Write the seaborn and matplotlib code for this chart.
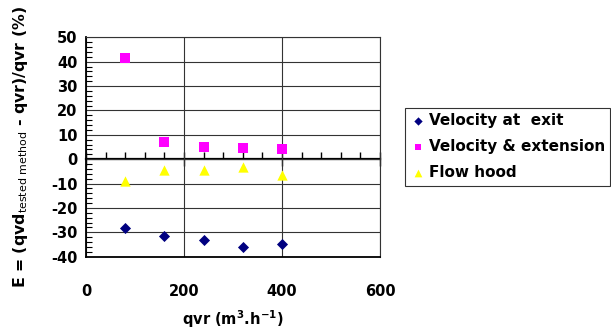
import matplotlib
matplotlib.use("Agg")
import matplotlib.pyplot as plt
import seaborn as sns
import pandas as pd
from matplotlib.ticker import MultipleLocator

sns.set_style("white")
plt.rcParams['font.family'] = ['DejaVu Sans']
plt.rcParams['axes.unicode_minus'] = False
plt.rcParams['mathtext.fontset'] = 'dejavusans'
plt.rcParams['text.color'] = 'black'
plt.rcParams['axes.labelcolor'] = 'black'
plt.rcParams['xtick.color'] = 'black'
plt.rcParams['ytick.color'] = 'black'

qvr = [80, 160, 240, 320, 400]
velocity_exit = [-28.4, -31.5, -33.1, -36.0, -34.8]
velocity_ext = [41.4, 6.9, 4.9, 4.6, 4.1]
flow_hood = [-9.0, -4.4, -4.6, -3.0, -6.3]
series_names = ["Velocity at  exit", "Velocity & extension", "Flow hood"]
colors = ["#000080", "#FF00FF", "#FFFF00"]
markers = ["D", "s", "^"]

df = pd.DataFrame({
    "qvr": qvr * 3,
    "E": velocity_exit + velocity_ext + flow_hood,
    "series": [series_names[0]] * 5 + [series_names[1]] * 5 + [series_names[2]] * 5,
})

fig = plt.figure(figsize=(6.11, 3.34), dpi=100)
ax = fig.add_axes([86 / 611, 1 - 256.7 / 334, (380 - 86) / 611, (256.7 - 37.3) / 334])

sizes = {series_names[0]: 32, series_names[1]: 42, series_names[2]: 55}
for name, c, m in zip(series_names, colors, markers):
    sub = df[df.series == name]
    sns.scatterplot(data=sub, x="qvr", y="E", color=c, marker=m, s=sizes[name],
                    edgecolor=c, linewidth=0, ax=ax, label=name, zorder=5)

ax.set_xlim(0, 600)
ax.set_ylim(-40, 50)
ax.xaxis.set_major_locator(MultipleLocator(200))
ax.yaxis.set_major_locator(MultipleLocator(10))
ax.yaxis.set_minor_locator(MultipleLocator(2))
ax.grid(True, which="major", color="#333333", linewidth=0.8)
ax.set_axisbelow(True)

for s in ["top", "right"]:
    ax.spines[s].set_color("#333333")
    ax.spines[s].set_linewidth(0.8)
ax.spines["left"].set_color("black")
ax.spines["left"].set_linewidth(1.3)
ax.spines["bottom"].set_color("black")
ax.spines["bottom"].set_linewidth(1.3)

ax.tick_params(axis="x", length=0, pad=20, labelsize=10.5)
ax.tick_params(axis="y", which="major", direction="inout", length=8, width=1, labelsize=10.5, pad=2)
ax.tick_params(axis="y", which="minor", direction="in", length=4, width=0.8, left=True)
for lab in ax.get_xticklabels() + ax.get_yticklabels():
    lab.set_fontweight("bold")

# horizontal axis crossing at zero
ylo, yhi = ax.get_ylim()
sec = ax.secondary_xaxis((0 - ylo) / (yhi - ylo))
sec.spines["bottom"].set_linewidth(1.6)
sec.spines["bottom"].set_color("black")
sec.xaxis.set_major_locator(MultipleLocator(200))
sec.xaxis.set_minor_locator(MultipleLocator(40))
sec.tick_params(axis="x", which="major", direction="inout", length=10, width=1, labelbottom=False)
sec.tick_params(axis="x", which="minor", direction="in", length=5, width=1)
sec.set_xticklabels([])

ax.set_xlabel("qvr (m$^{\\mathregular{3}}$.h$^{\\mathregular{-1}}$)", fontsize=10.5,
              fontweight="bold", labelpad=6)
ax.set_ylabel("E = (qvd$_{\\mathrm{tested\\ method}}$ - qvr)/qvr (%)", fontsize=11.3,
              fontweight="bold", labelpad=15)

leg = ax.legend(loc="upper left", bbox_to_anchor=(405 / 611, 1 - 108 / 334),
                bbox_transform=fig.transFigure, frameon=True, fancybox=False,
                edgecolor="black", prop={"weight": "bold", "size": 11},
                handletextpad=0.2, labelspacing=0.72, borderpad=0.35,
                handlelength=1.0, borderaxespad=0, markerscale=0.75)
leg.get_frame().set_linewidth(0.8)

fig.savefig("out.png", dpi=100)
